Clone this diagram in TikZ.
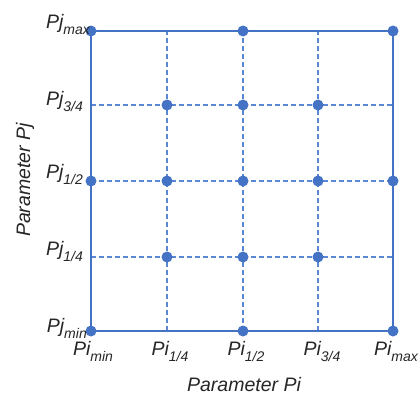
\documentclass[tikz,border=0pt]{standalone}
\usepackage{fontspec}
\setmainfont{Liberation Sans}
\definecolor{gblue}{HTML}{4472C4}
\definecolor{lblue}{HTML}{5A86D6}
\newcommand{\lbl}[2]{\fontsize{19.5}{19.5}\selectfont\itshape #1\raisebox{-6pt}{\fontsize{14}{14}\selectfont #2}}
\begin{document}
\begin{tikzpicture}[x=1pt,y=-1pt,
  frame/.style={draw=gblue,line width=2.2pt},
  gridline/.style={draw=lblue,line width=1.15pt,dash pattern=on 5pt off 3pt},
  dot/.style={circle,fill=gblue,inner sep=0pt,minimum size=11pt},
  lab/.style={inner sep=0pt,text=black!85}]
\useasboundingbox (0,0) rectangle (419,394);
% coordinates
\foreach \i/\x in {0/91,1/167,2/243,3/318,4/393}{
  \foreach \j/\y in {0/331,1/257,2/181,3/105,4/31}{
    \coordinate (g\i\j) at (\x,\y);
  }
}
% dashed grid
\foreach \k in {1,2,3}{
  \draw[gridline] (g\k0) -- (g\k4);
  \draw[gridline] (g0\k) -- (g4\k);
}
% frame
\draw[frame] (g00) -- (g40) -- (g44) -- (g04) -- cycle;
% dots
\foreach \n in {00,20,40,04,24,44,02,42,11,21,31,12,22,32,13,23,33}{
  \node[dot] (d\n) at (g\n) {};
}
% Pj labels
\node[lab,anchor=base east] (pjmax) at (90,28) {\lbl{Pj}{max}};
\node[lab,anchor=base east] (pj34) at (83,105) {\lbl{Pj}{3/4}};
\node[lab,anchor=base east] (pj12) at (83,178) {\lbl{Pj}{1/2}};
\node[lab,anchor=base east] (pj14) at (83,255) {\lbl{Pj}{1/4}};
\node[lab,anchor=base east] (pjmin) at (87,332) {\lbl{Pj}{min}};
% Pi labels
\node[lab,anchor=base] (pimin) at (93,355) {\lbl{Pi}{min}};
\node[lab,anchor=base] (pi14) at (170,355) {\lbl{Pi}{1/4}};
\node[lab,anchor=base] (pi12) at (246,355) {\lbl{Pi}{1/2}};
\node[lab,anchor=base] (pi34) at (322,355) {\lbl{Pi}{3/4}};
\node[lab,anchor=base east] (pimax) at (418,355) {\lbl{Pi}{max}};
% axis titles
\node[lab,anchor=base] (xt) at (244,391) {\fontsize{19.5}{19.5}\selectfont\itshape Parameter Pi};
\node[lab,anchor=base,rotate=90] (yt) at (30,180) {\fontsize{19.5}{19.5}\selectfont\itshape Parameter Pj};
\end{tikzpicture}
\end{document}
